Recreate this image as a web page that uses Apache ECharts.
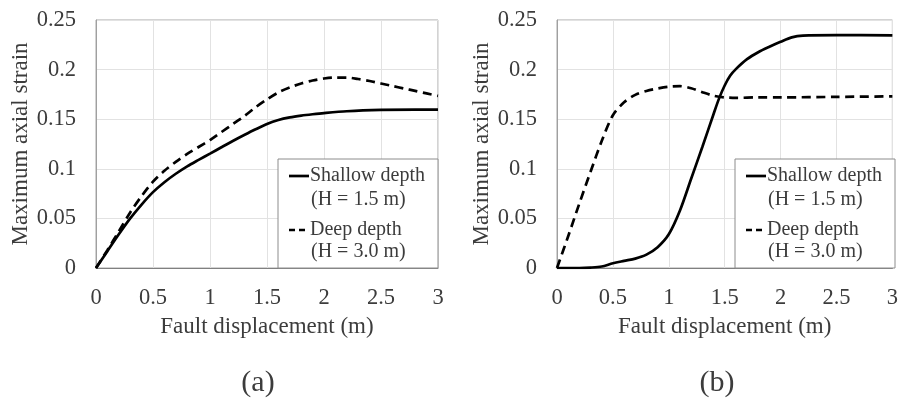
<!DOCTYPE html>
<html>
<head>
<meta charset="utf-8">
<script src="https://cdn.jsdelivr.net/npm/echarts@6/dist/echarts.min.js"></script>
<style>
html,body{margin:0;padding:0;background:#ffffff;}
#chart{width:901px;height:402px;}
</style>
</head>
<body>
<div id="chart"></div>
<script>
// ---------- data ----------
const panelLabels = ['(a)', '(b)'];
const seriesNames = ['Shallow depth', 'Deep depth'];
const seriesSubNames = ['(H = 1.5 m)', '(H = 3.0 m)'];
const xAxisTitle = 'Fault displacement (m)';
const yAxisTitle = 'Maximum axial strain';

// panel (a)
const shallowA = [[0,0],[0.1,0.017],[0.2,0.034],[0.3,0.05],[0.4,0.064],[0.5,0.0765],[0.6,0.0865],[0.7,0.095],[0.8,0.1025],[0.9,0.109],[1.0,0.1153],[1.1,0.1217],[1.2,0.128],[1.3,0.1340],[1.4,0.1398],[1.5,0.1452],[1.6,0.1492],[1.7,0.1518],[1.8,0.1536],[1.9,0.155],[2.0,0.1562],[2.2,0.158],[2.5,0.1593],[2.8,0.1597],[3.0,0.1597]];
const deepA = [[0,0],[0.1,0.018],[0.2,0.037],[0.3,0.056],[0.4,0.0725],[0.5,0.087],[0.6,0.098],[0.7,0.107],[0.8,0.115],[0.9,0.122],[1.0,0.129],[1.1,0.137],[1.2,0.145],[1.3,0.153],[1.4,0.162],[1.5,0.170],[1.6,0.177],[1.7,0.182],[1.8,0.186],[1.9,0.189],[2.0,0.191],[2.1,0.192],[2.2,0.192],[2.3,0.1905],[2.4,0.1885],[2.5,0.186],[2.6,0.1835],[2.7,0.181],[2.8,0.1785],[2.9,0.176],[3.0,0.1735]];

// panel (b)
const shallowB = [[0,0],[0.2,0],[0.3,0.0004],[0.4,0.0015],[0.5,0.0048],[0.6,0.0072],[0.7,0.0095],[0.8,0.0135],[0.9,0.021],[1.0,0.034],[1.1,0.058],[1.2,0.09],[1.3,0.122],[1.4,0.155],[1.45,0.171],[1.5,0.184],[1.55,0.194],[1.6,0.2005],[1.7,0.2105],[1.8,0.2175],[1.9,0.223],[2.0,0.228],[2.1,0.2325],[2.2,0.2343],[2.5,0.2348],[3.0,0.2345]];
const deepB = [[0,0],[0.1,0.032],[0.2,0.065],[0.3,0.097],[0.4,0.128],[0.5,0.154],[0.6,0.167],[0.7,0.1745],[0.8,0.1785],[0.9,0.181],[1.0,0.1828],[1.1,0.1833],[1.2,0.1812],[1.3,0.1772],[1.4,0.1737],[1.5,0.172],[1.6,0.1715],[1.8,0.172],[2.0,0.172],[2.5,0.1725],[3.0,0.173]];

const xMin = 0, xMax = 3, xStep = 0.5;
const yMin = 0, yMax = 0.25, yStep = 0.05;

// ---------- styling / layout ----------
const FONT = "'Liberation Serif','Times New Roman',serif";
const TXT = '#3c3c3c';
const FS_TICK = 22.5;
const FS_NAME = 23;
const FS_LEG = 20;
const grids = [
  {left: 96, top: 20, width: 342, height: 248},
  {left: 557, top: 20, width: 338, height: 248}
];

function xAxisFor(i) {
  return {
    type: 'value', gridIndex: i, min: xMin, max: xMax, interval: xStep,
    axisLine: {show: true, lineStyle: {color: '#808080', width: 1}},
    axisTick: {show: false},
    axisLabel: {margin: 19, fontSize: FS_TICK, color: TXT, fontFamily: FONT},
    splitLine: {show: true, lineStyle: {color: '#e2e2e2', width: 1}},
    name: xAxisTitle, nameLocation: 'middle', nameGap: 47,
    nameTextStyle: {fontSize: FS_NAME, color: TXT, fontFamily: FONT}
  };
}
function yAxisFor(i) {
  return {
    type: 'value', gridIndex: i, min: yMin, max: yMax, interval: yStep,
    axisLine: {show: true, lineStyle: {color: '#a0a0a0', width: 1}},
    axisTick: {show: false},
    axisLabel: {margin: 20, fontSize: FS_TICK, color: TXT, fontFamily: FONT},
    splitLine: {show: true, lineStyle: {color: '#e2e2e2', width: 1}},
    name: yAxisTitle, nameLocation: 'middle', nameGap: 52,
    nameTextStyle: {fontSize: FS_NAME, color: TXT, fontFamily: FONT}
  };
}
function lineSeries(name, data, i, dashed) {
  return {
    name: name, type: 'line', xAxisIndex: i, yAxisIndex: i, data: data,
    showSymbol: false, symbol: 'none', smooth: 0.3, z: 5,
    lineStyle: {color: '#000000', width: 2.7, type: dashed ? [9, 5.5] : 'solid'},
    emphasis: {disabled: true}
  };
}

// legend boxes drawn as graphic groups, anchored to each grid's lower-right corner
function legendFor(g) {
  const right = g.left + g.width;
  const bottom = g.top + g.height;
  const bx = right - 160, by = bottom - 109;
  const ts = {fontSize: FS_LEG, fontFamily: FONT, fill: TXT, verticalAlign: 'middle', align: 'left'};
  return [
    {type: 'rect', shape: {x: bx, y: by, width: 160, height: 109}, style: {fill: '#ffffff', stroke: '#8c8c8c', lineWidth: 1}, z: 10},
    {type: 'line', shape: {x1: bx + 11, y1: by + 17, x2: bx + 31, y2: by + 17}, style: {stroke: '#000', lineWidth: 2.7}, z: 11},
    {type: 'text', x: bx + 32, y: by + 17, style: Object.assign({text: seriesNames[0]}, ts), z: 11},
    {type: 'text', x: bx + 33, y: by + 41, style: Object.assign({text: seriesSubNames[0]}, ts), z: 11},
    {type: 'line', shape: {x1: bx + 11, y1: by + 71, x2: bx + 31, y2: by + 71}, style: {stroke: '#000', lineWidth: 2.7, lineDash: [6, 4]}, z: 11},
    {type: 'text', x: bx + 32, y: by + 71, style: Object.assign({text: seriesNames[1]}, ts), z: 11},
    {type: 'text', x: bx + 33, y: by + 93, style: Object.assign({text: seriesSubNames[1]}, ts), z: 11}
  ];
}

const graphic = [].concat(legendFor(grids[0]), legendFor(grids[1]));
graphic.push({type: 'text', x: 258, y: 383, style: {text: panelLabels[0], fontSize: 30, fontFamily: FONT, fill: TXT, align: 'center', verticalAlign: 'middle'}});
graphic.push({type: 'text', x: 717, y: 383, style: {text: panelLabels[1], fontSize: 30, fontFamily: FONT, fill: TXT, align: 'center', verticalAlign: 'middle'}});

const chart = echarts.init(document.getElementById('chart'), null, {renderer: 'canvas'});
chart.setOption({
  animation: false,
  backgroundColor: '#ffffff',
  grid: grids.map(g => Object.assign({show: true, borderColor: '#a6a6a6', borderWidth: 1, backgroundColor: 'transparent', containLabel: false}, g)),
  xAxis: [xAxisFor(0), xAxisFor(1)],
  yAxis: [yAxisFor(0), yAxisFor(1)],
  series: [
    lineSeries(seriesNames[0], shallowA, 0, false),
    lineSeries(seriesNames[1], deepA, 0, true),
    lineSeries(seriesNames[0], shallowB, 1, false),
    lineSeries(seriesNames[1], deepB, 1, true)
  ],
  graphic: graphic
});
</script>
</body>
</html>
